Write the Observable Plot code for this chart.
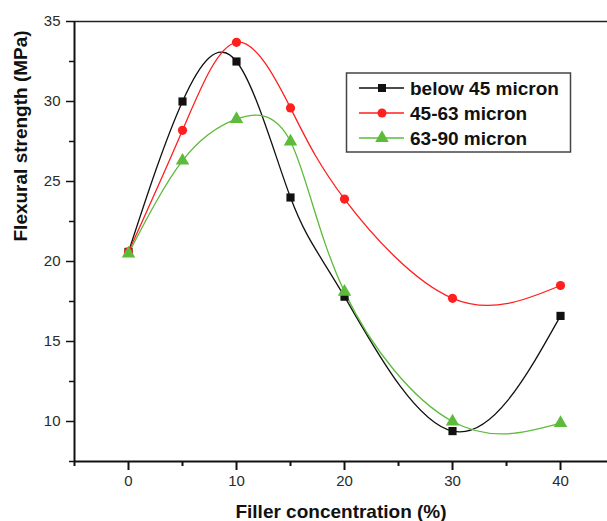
<!DOCTYPE html>
<html>
<head>
<meta charset="utf-8">
<script src="https://cdn.jsdelivr.net/npm/d3@7"></script>
<script src="https://cdn.jsdelivr.net/npm/@observablehq/plot@0.6"></script>
<style>
  body { margin: 0; background: #fff; }
  #wrap { position: relative; width: 607px; height: 521px; overflow: hidden; }
  #legend { position: absolute; left: 0; top: 0; }
</style>
</head>
<body>
<div id="wrap"></div>
<script>
// Filler concentration (%) at which flexural strength was measured
const concentration = [0, 5, 10, 15, 20, 30, 40];
// Flexural strength (MPa) for each particle-size range
const below45 = [20.6, 30.0, 32.5, 24.0, 17.8, 9.4, 16.6];
const range4563 = [20.6, 28.2, 33.7, 29.6, 23.9, 17.7, 18.5];
const range6390 = [20.5, 26.3, 28.9, 27.5, 18.1, 10.0, 9.9];
const seriesNames = ["below 45 micron", "45-63 micron", "63-90 micron"];
const seriesColors = ["#111111", "#ff1f1f", "#5dbb3a"];
const seriesSymbols = ["square", "circle", "triangle"];

const xTicks = [0, 10, 20, 30, 40];
const xMinor = [-5, 5, 15, 25, 35];
const yTicks = [10, 15, 20, 25, 30, 35];
const yMinor = [7.5, 12.5, 17.5, 22.5, 27.5, 32.5];

const seriesValues = [below45, range4563, range6390];
const rows = seriesValues.flatMap((vals, i) =>
  vals.map((v, j) => ({series: seriesNames[i], x: concentration[j], y: v}))
);

const font = "'Liberation Sans', Arial, sans-serif";

const lineMarks = seriesNames.map((name, i) =>
  Plot.line(rows.filter(d => d.series === name), {
    x: "x", y: "y", curve: "natural",
    stroke: seriesColors[i], strokeWidth: 1.3
  })
);
const dotMarks = seriesNames.map((name, i) =>
  Plot.dot(rows.filter(d => d.series === name), {
    x: "x", y: "y", symbol: () => seriesSymbols[i],
    fill: seriesColors[i], stroke: "none",
    r: i === 2 ? 5 : 4.6
  })
);

const chart = Plot.plot({
  width: 607,
  height: 521,
  marginLeft: 74,
  marginRight: 0,
  marginTop: 21,
  marginBottom: 60,
  style: {fontFamily: font, fontSize: "15px", color: "#2a2a2a", background: "#fff"},
  x: {domain: [-5, 44.35]},
  y: {domain: [7.5, 35]},
  symbol: {type: "identity"},
  marks: [
    Plot.axisX({ticks: xTicks, tickSize: 9, tickPadding: 5, strokeWidth: 2, label: null, stroke: "#111"}),
    Plot.axisX({ticks: xMinor, tickSize: 5, text: null, label: null, strokeWidth: 2, stroke: "#111"}),
    Plot.axisY({ticks: yTicks, tickSize: 8, tickPadding: 6, strokeWidth: 1.5, label: null, stroke: "#111"}),
    Plot.axisY({ticks: yMinor, tickSize: 5, text: null, label: null, strokeWidth: 1.5, stroke: "#111"}),
    Plot.ruleY([35], {stroke: "#222", strokeWidth: 1.5}),
    Plot.ruleY([7.5], {stroke: "#111", strokeWidth: 2}),
    Plot.ruleX([-5], {stroke: "#111", strokeWidth: 2}),
    ...lineMarks,
    ...dotMarks,
    Plot.text(["Filler concentration (%)"], {
      text: d => d, frameAnchor: "bottom", dy: 56,
      fontSize: 19, fontWeight: "bold", fill: "#111"
    }),
    Plot.text(["Flexural strength (MPa)"], {
      text: d => d, frameAnchor: "left", dx: -54, rotate: -90,
      fontSize: 19, fontWeight: "bold", fill: "#111"
    })
  ]
});

const wrap = document.getElementById("wrap");
wrap.appendChild(chart);

// Legend box with line + marker swatches
const lg = d3.select(wrap).append("svg")
  .attr("id", "legend").attr("width", 607).attr("height", 521)
  .style("pointer-events", "none");
lg.append("rect")
  .attr("x", 346.5).attr("y", 73).attr("width", 224).attr("height", 79)
  .attr("fill", "#fff").attr("stroke", "#444").attr("stroke-width", 1.5);
const symbolTypes = {square: d3.symbolSquare, circle: d3.symbolCircle, triangle: d3.symbolTriangle};
seriesNames.forEach((name, i) => {
  const cy = 88 + i * 25;
  lg.append("line").attr("x1", 359).attr("x2", 404).attr("y1", cy).attr("y2", cy)
    .attr("stroke", seriesColors[i]).attr("stroke-width", 1.3);
  lg.append("path")
    .attr("d", d3.symbol(symbolTypes[seriesSymbols[i]], i === 2 ? 80 : 64)())
    .attr("transform", `translate(382,${cy})`)
    .attr("fill", seriesColors[i]);
  lg.append("text").attr("x", 410).attr("y", cy).attr("dy", "0.36em")
    .attr("font-family", font).attr("font-size", 19).attr("font-weight", "bold")
    .attr("fill", "#111").text(name);
});
</script>
</body>
</html>
